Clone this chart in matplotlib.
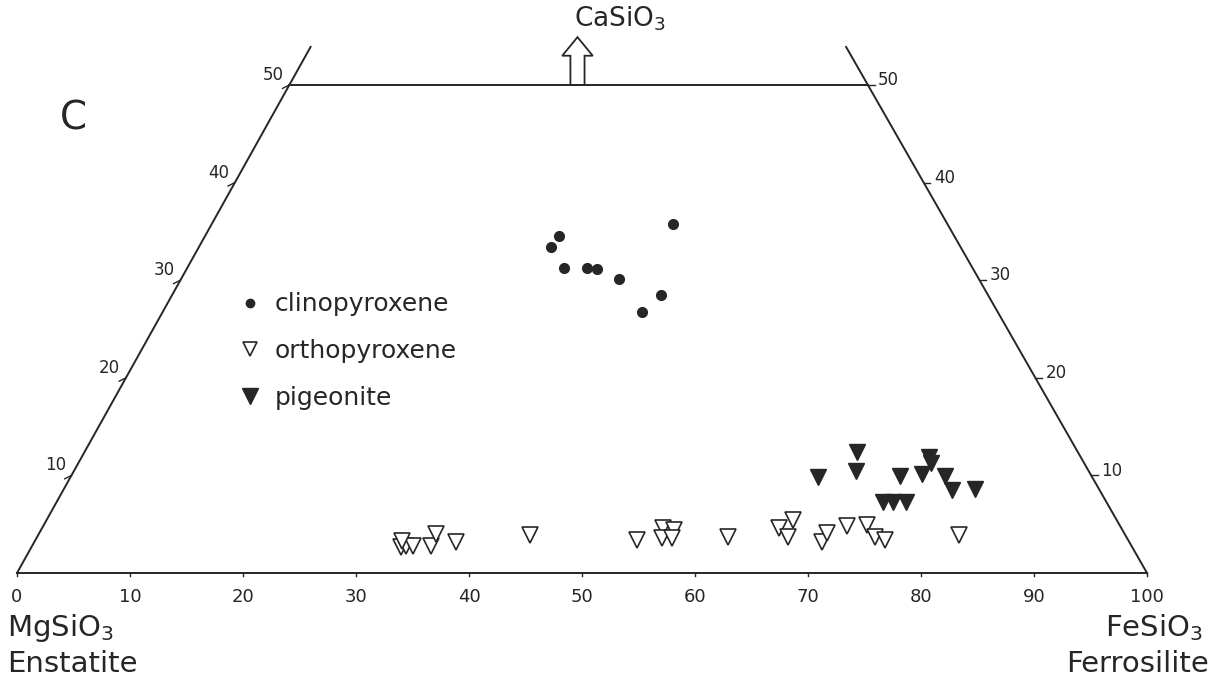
import matplotlib
import matplotlib.pyplot as plt
from matplotlib.lines import Line2D
from matplotlib.patches import FancyArrow
import numpy as np

plt.switch_backend('agg')

cpx_wo = [35.8, 34.5, 33.4, 31.3, 31.3, 31.1, 30.1, 28.5, 26.7]
cpx_fs = [40.6, 31.2, 31.0, 33.2, 35.2, 36.2, 38.6, 43.1, 42.3]

opx_wo = [2.7, 2.8, 2.8, 3.3, 2.8, 4.0, 3.2, 3.9, 3.4, 4.6, 3.6, 4.4, 3.6,
          3.7, 4.6, 5.4, 3.7, 3.2, 4.1, 4.8, 4.9, 3.7, 3.4, 3.9]
opx_fs = [32.7, 33.1, 33.7, 32.5, 35.3, 35.1, 37.3, 43.5, 53.2, 54.9, 55.3,
          56.0, 56.2, 61.1, 65.2, 66.0, 66.4, 69.7, 69.7, 71.1, 72.8, 74.1,
          75.2, 81.5]

pig_wo = [12.4, 10.5, 9.8, 9.9, 10.1, 11.9, 11.3, 9.9, 8.5, 8.6, 7.3, 7.3, 7.3]
pig_fs = [68.3, 69.1, 66.1, 73.3, 75.2, 74.9, 75.4, 77.3, 78.6, 80.6, 73.1,
          74.0, 75.1]

bottom_ticks = [0, 10, 20, 30, 40, 50, 60, 70, 80, 90, 100]
side_ticks = [10, 20, 30, 40, 50]

# the original drawing's sides are a touch steeper than 60 deg
k = 0.487
kL, kR = 0.482, 0.494
def xpos(fs, wo):
    return np.asarray(fs) + k * np.asarray(wo)

ink = '#262626'
plt.rcParams['font.family'] = ['DejaVu Sans']

fig = plt.figure(figsize=(12.17, 6.8), dpi=100)
ax = fig.add_axes([0, 0, 1, 1])
ax.set_xlim(-17 / 11.3, 1200 / 11.3)
ax.set_ylim(-107 / 9.76, 573 / 9.76)
ax.axis('off')

# outline
top = 53.9
ax.plot([0, 100], [0, 0], color=ink, lw=1.4)
ax.plot([kL * 50, 100 - kR * 50], [50, 50], color=ink, lw=1.4)
ax.plot([0, kL * top], [0, top], color=ink, lw=1.4)
ax.plot([100, 100 - kR * top], [0, top], color=ink, lw=1.4)

# bottom scale
for t in bottom_ticks:
    ax.plot([t, t], [0, -0.35], color=ink, lw=1)
    ax.text(t, -1.5, str(t), ha='center', va='top', fontsize=13, color=ink)

# side scales
for t in side_ticks:
    xl = kL * t
    ax.plot([xl - 0.6, xl], [t - 0.35, t], color=ink, lw=1)
    ax.text(xl - 0.5, t + 0.1, str(t), ha='right', va='bottom', fontsize=12, color=ink)
    xr = 100 - kR * t
    ax.plot([xr, xr + 0.6], [t, t], color=ink, lw=1)
    ax.text(xr + 0.9, t + 0.5, str(t), ha='left', va='center', fontsize=12, color=ink)

# CaSiO3 arrow
ax.add_patch(FancyArrow(49.6, 50, 0, 4.9, width=1.25, head_width=2.7,
                        head_length=1.9, length_includes_head=True,
                        facecolor='white', edgecolor=ink, lw=1.3))
ax.text(53.4, 58.2, r'CaSiO$_3$', ha='center', va='top', fontsize=19, color=ink)

# corner labels
ax.text(-0.9, -5.6, r'MgSiO$_3$', ha='left', va='center', fontsize=21, color=ink)
ax.text(-0.9, -9.3, 'Enstatite', ha='left', va='center', fontsize=21, color=ink)
ax.text(104.9, -5.6, r'FeSiO$_3$', ha='right', va='center', fontsize=21, color=ink)
ax.text(105.5, -9.3, 'Ferrosilite', ha='right', va='center', fontsize=21, color=ink)
ax.text(5.0, 46.6, 'C', ha='center', va='center', fontsize=28, color=ink)

# data
ax.plot(xpos(cpx_fs, cpx_wo), cpx_wo, 'o', ms=7, color=ink, ls='none')
ax.plot(xpos(opx_fs, opx_wo), opx_wo, 'v', ms=12, mfc='white', mec=ink,
        mew=1.2, ls='none')
ax.plot(xpos(pig_fs, pig_wo), pig_wo, 'v', ms=12, color=ink, ls='none')

handles = [
    Line2D([], [], marker='o', ms=6, color=ink, ls='none'),
    Line2D([], [], marker='v', ms=10, mfc='white', mec=ink, mew=1.2, ls='none'),
    Line2D([], [], marker='v', ms=11, color=ink, ls='none'),
]
fig.legend(handles, ['clinopyroxene', 'orthopyroxene', 'pigeonite'],
           loc='upper left', bbox_to_anchor=(225 / 1217, 1 - 280 / 680),
           frameon=False, fontsize=18, handlelength=1.0, handletextpad=0.5,
           labelspacing=0.9, labelcolor=ink, borderpad=0)

fig.savefig('out.png', dpi=100)
